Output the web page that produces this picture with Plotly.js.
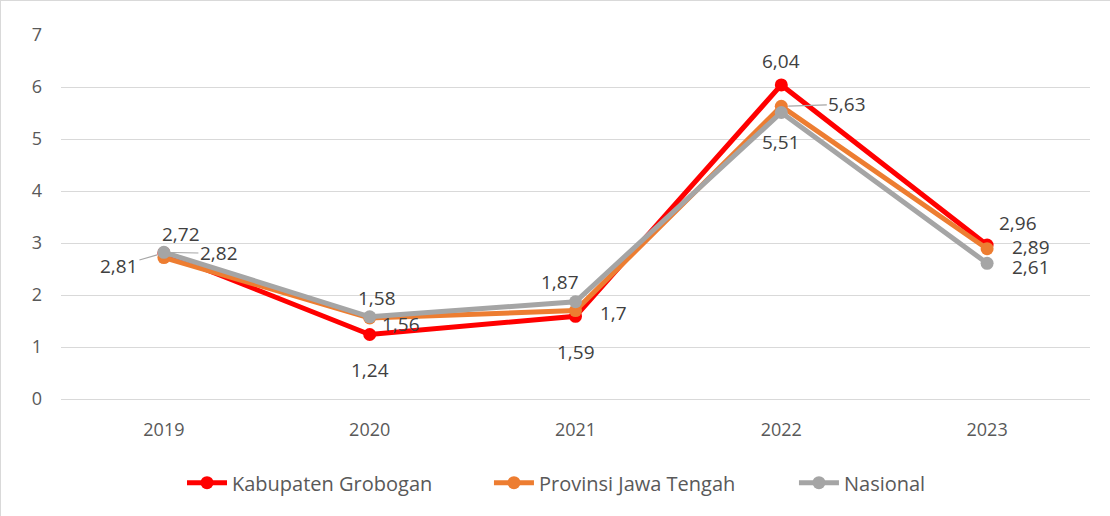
<!DOCTYPE html>
<html><head><meta charset="utf-8">
<script src="https://cdn.plot.ly/plotly-3.0.1.min.js"></script>
<style>html,body{margin:0;padding:0;background:#fff}#c{width:1110px;height:516px;box-sizing:border-box;border:1px solid #d9d9d9}</style>
</head><body><div id="c"></div>
<script>
const years = [2019, 2020, 2021, 2022, 2023];
const grobogan = [2.81, 1.24, 1.59, 6.04, 2.96];
const jateng = [2.72, 1.56, 1.7, 5.63, 2.89];
const nasional = [2.82, 1.58, 1.87, 5.51, 2.61];
const seriesNames = ['Kabupaten Grobogan', 'Provinsi Jawa Tengah', 'Nasional'];
const colors = ['#FF0000', '#ED7D31', '#A5A5A5'];
const yTicks = [0,1,2,3,4,5,6,7];

const FONT = 'Open Sans, sans-serif';
const fmt = v => String(v).replace('.', ',');
const legendIds = ['legend', 'legend2', 'legend3'];
const legendX = [0.1176, 0.4159, 0.7123];

const traces = [grobogan, jateng, nasional].map((d, i) => ({
  x: years, y: d, name: seriesNames[i], type: 'scatter', mode: 'lines+markers',
  line: {color: colors[i], width: 5}, marker: {color: colors[i], size: 13},
  legend: legendIds[i], hoverinfo: 'skip'
}));

// label offsets [xshift, yshift] per series per point; arrow flag for leader lines
const offs = [
  [[-45,-13,1],[0,-35],[0,-36],[0,24],[31,22]],
  [[17,24],[31,-6],[38,-2],[66,2,1],[44,2]],
  [[55,-1,1],[7,19],[-16,20],[0,-30],[44,-4]]
];
const annotations = [];
[grobogan, jateng, nasional].forEach((d, si) => {
  d.forEach((v, i) => {
    const o = offs[si][i];
    const a = {x: years[i], y: v, xref: 'x', yref: 'y', text: fmt(v),
      font: {family: FONT, size: 19, color: '#404040'}};
    if (o[2]) {
      a.showarrow = true; a.ax = o[0]; a.ay = -o[1]; a.arrowhead = 0;
      a.arrowwidth = 1.2; a.arrowcolor = '#a6a6a6'; a.standoff = 7;
    } else {
      a.showarrow = false; a.xshift = o[0]; a.yshift = o[1];
    }
    annotations.push(a);
  });
});

const layout = {
  width: 1110, height: 516,
  margin: {l: 60, r: 21, t: 34, b: 118},
  paper_bgcolor: '#fff', plot_bgcolor: '#fff',
  font: {family: FONT, size: 18, color: '#595959'},
  showlegend: true,
  xaxis: {range: [2018.5, 2023.5], tickvals: years, ticktext: years.map(String),
    showgrid: false, showline: false, zeroline: false,
    ticks: '', ticklabelstandoff: 18, tickfont: {size: 18, color: '#595959'}, fixedrange: true},
  yaxis: {range: [0, 7], tickvals: yTicks, ticktext: yTicks.map(String), showgrid: true,
    gridcolor: '#d9d9d9', gridwidth: 1, zeroline: true, zerolinecolor: '#d9d9d9', zerolinewidth: 1,
    showline: false, ticks: '', ticklabelstandoff: 18, tickfont: {size: 18, color: '#595959'}, fixedrange: true},
  annotations: annotations
};
legendIds.forEach((id, i) => {
  layout[id] = {orientation: 'h', x: legendX[i], xanchor: 'left', y: -0.23, yanchor: 'middle',
    font: {family: FONT, size: 20, color: '#595959'}, itemwidth: 40, bgcolor: 'rgba(0,0,0,0)'};
});
Plotly.newPlot('c', traces, layout, {displayModeBar: false, staticPlot: true});
</script></body></html>
